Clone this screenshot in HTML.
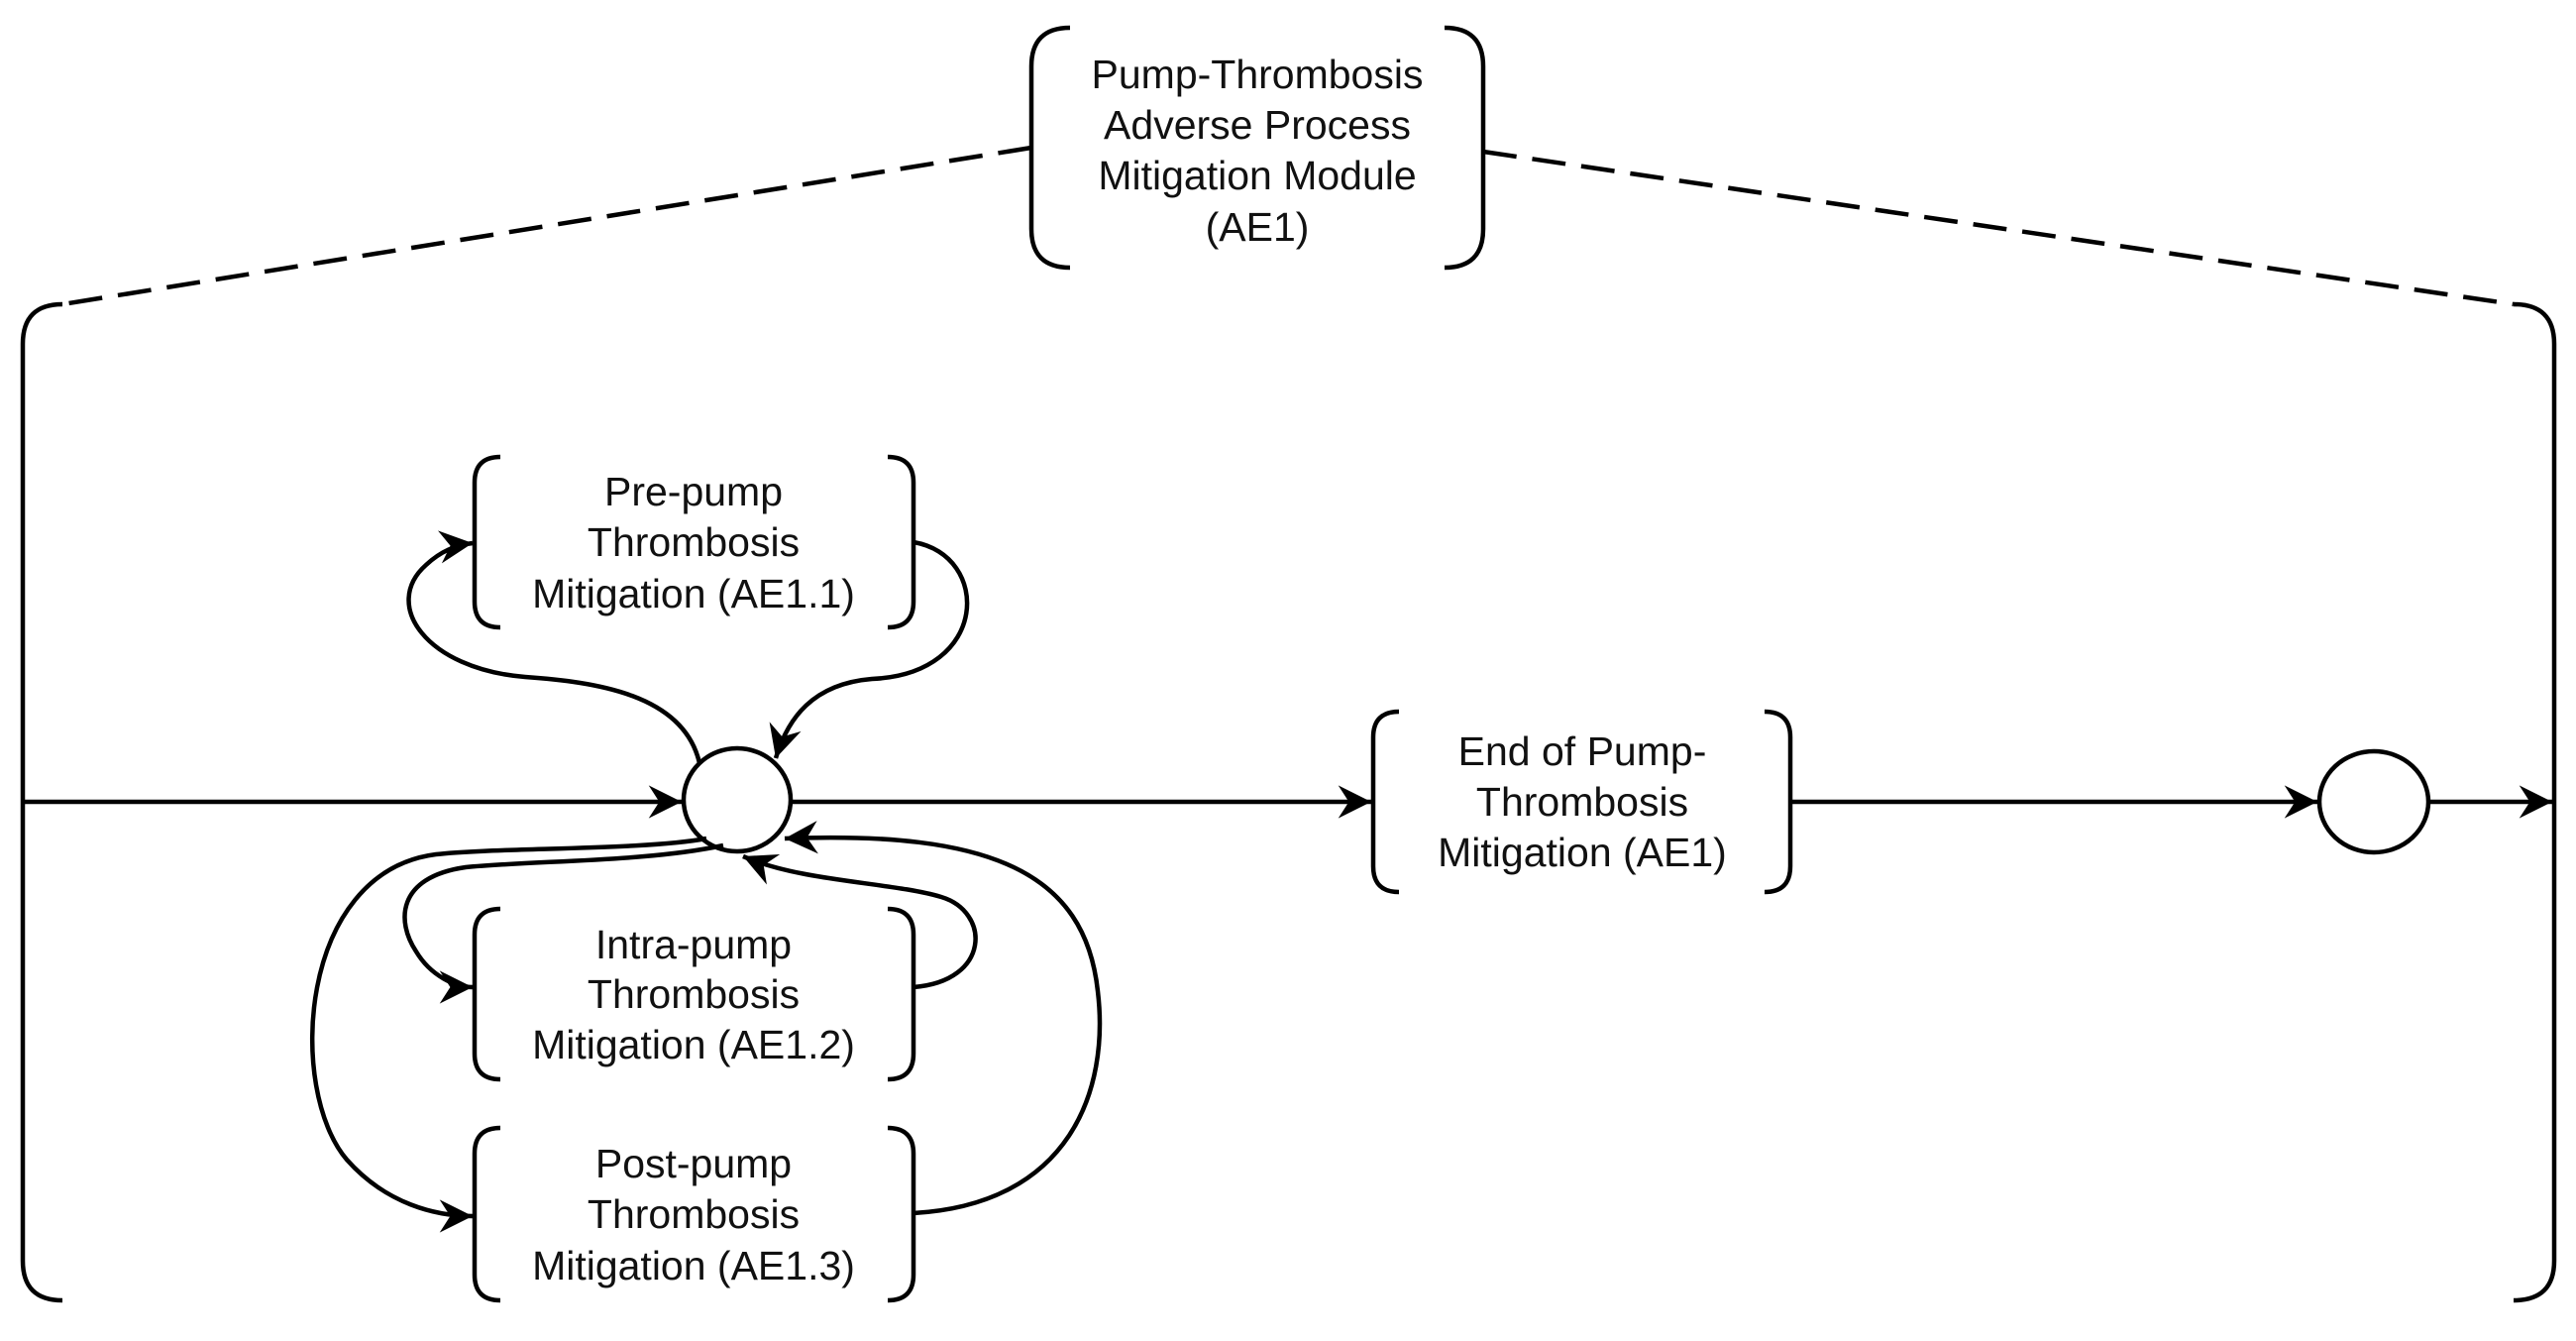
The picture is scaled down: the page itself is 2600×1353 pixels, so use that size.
<!DOCTYPE html>
<html><head><meta charset="utf-8"><style>
html,body{margin:0;padding:0;background:#fff;}
svg{display:block;}
text{font-family:"Liberation Sans",Arial,sans-serif;font-size:41px;fill:#111;}
</style></head><body>
<svg width="2600" height="1353" viewBox="0 0 2600 1353" xmlns="http://www.w3.org/2000/svg">
<defs>
<marker id="a" markerUnits="userSpaceOnUse" markerWidth="44" markerHeight="44" refX="0" refY="0" viewBox="-32 -16 37 32" orient="auto">
<path d="M0,0 L-28,-14 L-19,0 L-28,14 Z" fill="#000"/>
</marker>
</defs>
<g fill="none" stroke="#000" stroke-width="4.5">
<path d="M1080,28 Q1041,28 1041,67 L1041,231 Q1041,270 1080,270"/>
<path d="M1458,28 Q1497,28 1497,67 L1497,231 Q1497,270 1458,270"/>
<path d="M1041,149 L63,307" stroke-dasharray="34,16"/>
<path d="M1497,153 L2537,307" stroke-dasharray="34,16"/>
<path d="M63,307 Q23,307 23,347 L23,1272 Q23,1312 63,1312"/>
<path d="M2537,307 Q2578,307 2578,347 L2578,1272 Q2578,1312 2537,1312"/>
<path d="M505,461 Q479,461 479,487 L479,607 Q479,633 505,633"/>
<path d="M896,461 Q922,461 922,487 L922,607 Q922,633 896,633"/>
<path d="M505,917 Q479,917 479,943 L479,1063 Q479,1089 505,1089"/>
<path d="M896,917 Q922,917 922,943 L922,1063 Q922,1089 896,1089"/>
<path d="M505,1138 Q479,1138 479,1164 L479,1286 Q479,1312 505,1312"/>
<path d="M896,1138 Q922,1138 922,1164 L922,1286 Q922,1312 896,1312"/>
<path d="M1412,718 Q1386,718 1386,744 L1386,874 Q1386,900 1412,900"/>
<path d="M1781,718 Q1807,718 1807,744 L1807,874 Q1807,900 1781,900"/>
<ellipse cx="744" cy="807" rx="54" ry="52"/>
<ellipse cx="2396" cy="809" rx="55" ry="51"/>
<path d="M23,809 L688,809" marker-end="url(#a)"/>
<path d="M798,809 L1384,809" marker-end="url(#a)"/>
<path d="M1807,809 L2339,809" marker-end="url(#a)"/>
<path d="M2451,809 L2576,809" marker-end="url(#a)"/>
<path d="M706,770 C690,700 600,688 530,683 C430,675 385,610 430,570 C445,556 460,550 477,548" marker-end="url(#a)"/>
<path d="M922,547 C1000,560 1000,680 880,685 C820,690 795,725 783,765" marker-end="url(#a)"/>
<path d="M713,846 C650,858 500,855 440,862 C300,880 290,1100 350,1170 C390,1215 440,1227 477,1227" marker-end="url(#a)"/>
<path d="M730,853 C650,870 540,868 470,875 C400,885 400,930 420,960 C435,985 460,996 477,996" marker-end="url(#a)"/>
<path d="M922,996 C1000,990 1000,920 950,905 C900,890 810,890 750,864" marker-end="url(#a)"/>
<path d="M922,1224 C1080,1215 1120,1100 1108,1000 C1095,880 1000,838 792,846" marker-end="url(#a)"/>
</g>
<g text-anchor="middle" dominant-baseline="central">
<text x="1269" y="75">Pump-Thrombosis</text>
<text x="1269" y="126">Adverse Process</text>
<text x="1269" y="177">Mitigation Module</text>
<text x="1269" y="229">(AE1)</text>
<text x="700" y="496">Pre-pump</text>
<text x="700" y="547">Thrombosis</text>
<text x="700" y="599">Mitigation (AE1.1)</text>
<text x="700" y="953">Intra-pump</text>
<text x="700" y="1003">Thrombosis</text>
<text x="700" y="1054">Mitigation (AE1.2)</text>
<text x="700" y="1174">Post-pump</text>
<text x="700" y="1225">Thrombosis</text>
<text x="700" y="1277">Mitigation (AE1.3)</text>
<text x="1597" y="758">End of Pump-</text>
<text x="1597" y="809">Thrombosis</text>
<text x="1597" y="860">Mitigation (AE1)</text>
</g>
</svg>
</body></html>
